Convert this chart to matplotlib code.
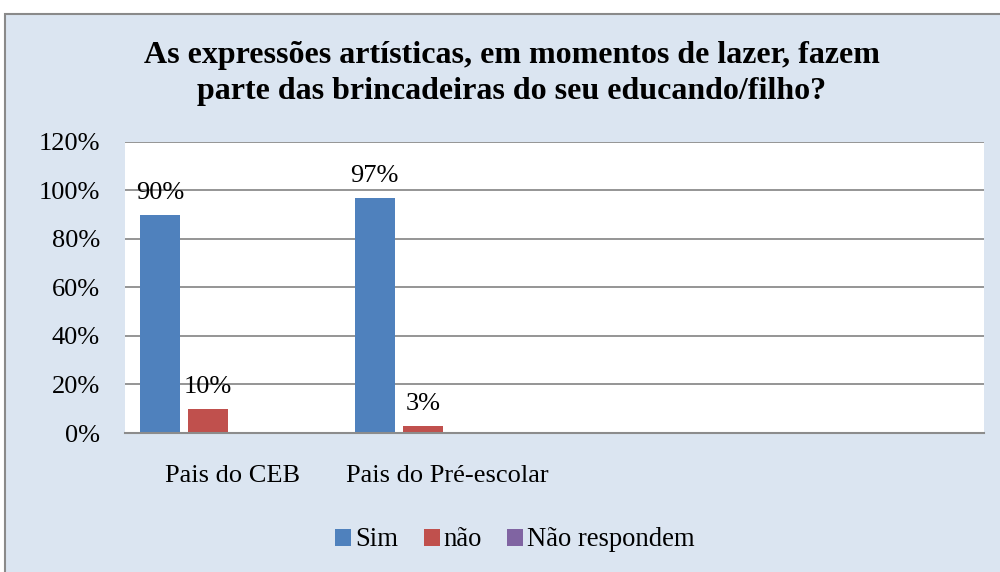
import numpy as np
import matplotlib
matplotlib.use("Agg")
import matplotlib.pyplot as plt
from matplotlib.patches import Rectangle

categorias = ["Pais do CEB", "Pais do Pré-escolar", "", ""]
series = ["Sim", "não", "Não respondem"]
sim = [0.90, 0.97, np.nan, np.nan]
nao = [0.10, 0.03, np.nan, np.nan]
nao_respondem = [np.nan, np.nan, np.nan, np.nan]
rotulos_sim = ["90%", "97%"]
rotulos_nao = ["10%", "3%"]
yticks = [0, 0.2, 0.4, 0.6, 0.8, 1.0, 1.2]
ytick_labels = ["0%", "20%", "40%", "60%", "80%", "100%", "120%"]

plt.rcParams['font.family'] = ['Liberation Serif', 'DejaVu Serif']

fundo = "#dbe5f1"
cores = ["#4f81bd", "#c0504d", "#8064a2"]

fig = plt.figure(figsize=(10, 5.72), dpi=100)
fig.patch.set_facecolor("white")
# caixa do grafico (cortada a direita e em baixo)
fig.patches.append(Rectangle((0.005, -0.1), 1.2, 1.1 - 0.025,
                             transform=fig.transFigure, facecolor=fundo,
                             edgecolor="#8a8a8a", linewidth=1.5, zorder=-5))

ax = fig.add_axes([0.125, 0.243, 0.859, 0.509])
ax.set_facecolor("white")

x = np.arange(len(categorias))
w = 0.186
passo = 0.225
offsets = [-1.5 * passo, -0.5 * passo, 0.5 * passo]
dados = [sim, nao, nao_respondem]
barras = []
for i in range(3):
    b = ax.bar(x + offsets[i], dados[i], width=w, color=cores[i],
               label=series[i], zorder=3)
    barras.append(b)

for j, lab in enumerate(rotulos_sim):
    ax.annotate(lab, (x[j] + offsets[0], sim[j]), xytext=(0, 8),
                textcoords="offset points", ha="center", va="bottom",
                fontsize=19)
for j, lab in enumerate(rotulos_nao):
    ax.annotate(lab, (x[j] + offsets[1], nao[j]), xytext=(0, 8),
                textcoords="offset points", ha="center", va="bottom",
                fontsize=19)

ax.set_xlim(-0.5, 3.5)
ax.set_ylim(0, 1.2)
ax.set_yticks(yticks)
ax.set_yticklabels(ytick_labels, fontsize=19)
ax.set_xticks(x[:2])
ax.set_xticklabels(categorias[:2], fontsize=19)
ax.tick_params(axis="y", length=0, pad=18)
ax.tick_params(axis="x", length=0, pad=23)
ax.yaxis.grid(True, color="#8c8c8c", linewidth=1.3, zorder=1)
ax.set_axisbelow(True)
for s in ["left", "right", "top"]:
    ax.spines[s].set_visible(False)
ax.spines["bottom"].set_color("#8c8c8c")
ax.spines["bottom"].set_linewidth(1.5)
ax.spines["bottom"].set_zorder(4)

fig.text(0.512, 0.871, "As expressões artísticas, em momentos de lazer, fazem\n"
         "parte das brincadeiras do seu educando/filho?",
         ha="center", va="center", fontsize=23, fontweight="bold",
         linespacing=1.3)

fig.legend(handles=barras, labels=series, loc="center",
           bbox_to_anchor=(0.515, 0.056), ncol=3, frameon=False,
           fontsize=19.2, handlelength=0.6, handleheight=0.6,
           handletextpad=0.15, columnspacing=0.95)

fig.savefig("out.png", dpi=100, facecolor=fig.get_facecolor())
